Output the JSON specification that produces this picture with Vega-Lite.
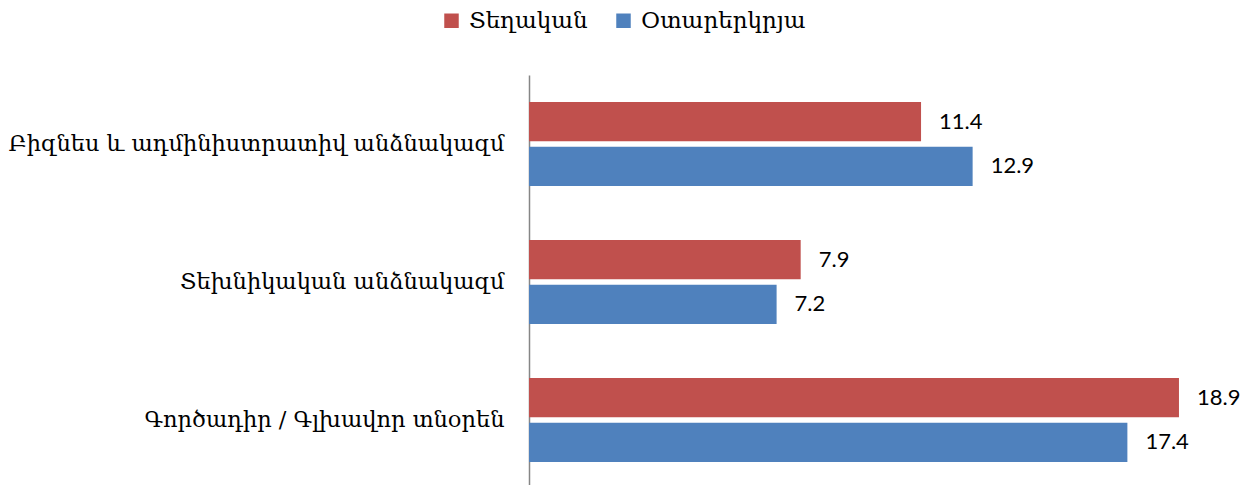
{
  "$schema": "https://vega.github.io/schema/vega-lite/v6.json",
  "width": 716,
  "height": 414,
  "autosize": {"type": "none"},
  "padding": {"left": 529, "top": 75, "right": 2, "bottom": 0},
  "background": "white",
  "config": {"view": {"stroke": null}},
  "data": {
    "values": [
      {"cat": "Բիզնես և ադմինիստրատիվ անձնակազմ", "series": "Տեղական", "value": 11.4},
      {"cat": "Բիզնես և ադմինիստրատիվ անձնակազմ", "series": "Օտարերկրյա", "value": 12.9},
      {"cat": "Տեխնիկական անձնակազմ", "series": "Տեղական", "value": 7.9},
      {"cat": "Տեխնիկական անձնակազմ", "series": "Օտարերկրյա", "value": 7.2},
      {"cat": "Գործադիր / Գլխավոր տնօրեն", "series": "Տեղական", "value": 18.9},
      {"cat": "Գործադիր / Գլխավոր տնօրեն", "series": "Օտարերկրյա", "value": 17.4}
    ]
  },
  "encoding": {
    "y": {
      "field": "cat",
      "type": "nominal",
      "sort": null,
      "scale": {"paddingInner": 0.39, "paddingOuter": 0.195},
      "axis": {
        "title": null,
        "domainColor": "#868686",
        "domainWidth": 1.5,
        "ticks": false,
        "labelFont": "DejaVu Serif",
        "labelFontSize": 22.5,
        "labelColor": "#000000",
        "labelPadding": 25,
        "labelLimit": 600
      }
    },
    "yOffset": {
      "field": "series",
      "type": "nominal",
      "sort": ["Տեղական", "Օտարերկրյա"],
      "scale": {"paddingInner": 0.12}
    },
    "x": {
      "field": "value",
      "type": "quantitative",
      "scale": {"domain": [0, 20.82], "nice": false},
      "axis": null
    }
  },
  "layer": [
    {
      "mark": {"type": "bar"},
      "encoding": {
        "color": {
          "field": "series",
          "type": "nominal",
          "sort": ["Տեղական", "Օտարերկրյա"],
          "scale": {"domain": ["Տեղական", "Օտարերկրյա"], "range": ["#C0504D", "#4F81BD"]},
          "legend": {
            "title": null,
            "orient": "none",
            "direction": "horizontal",
            "legendX": -89,
            "legendY": -66,
            "symbolType": "square",
            "symbolSize": 210,
            "symbolStrokeWidth": 0,
            "labelFont": "DejaVu Serif",
            "labelFontSize": 23,
            "labelColor": "#000000",
            "labelLimit": 400,
            "columnPadding": 24,
            "labelOffset": 6
          }
        }
      }
    },
    {
      "mark": {"type": "text", "align": "left", "dx": 18, "font": "Lato", "fontSize": 22, "color": "#000000"},
      "encoding": {
        "text": {"field": "value", "type": "quantitative", "format": ".1f"}
      }
    }
  ]
}
